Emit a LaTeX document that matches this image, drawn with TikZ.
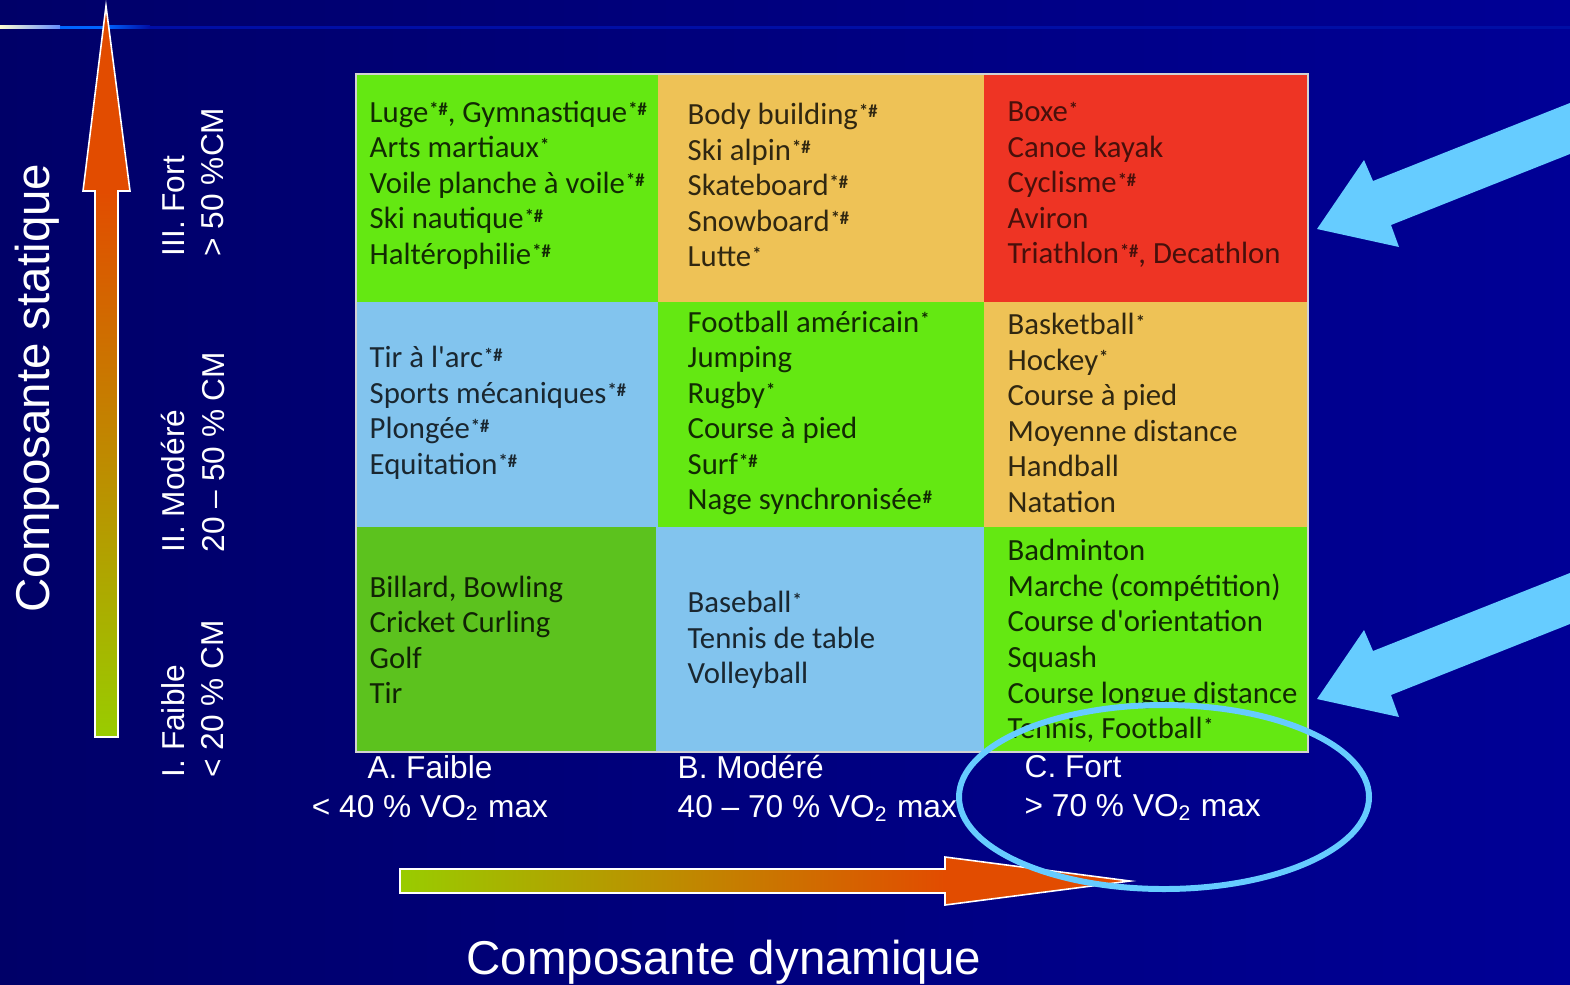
\documentclass[tikz,border=0pt]{standalone}
\usepackage{fontspec}
\setmainfont{Carlito}
\newfontfamily\arialfont{Liberation Sans}
\usepackage{xcolor}
\usepackage{graphicx}
\usetikzlibrary{positioning,calc}

\definecolor{bgleft}{RGB}{0,0,104}
\definecolor{bgright}{RGB}{0,0,150}
\definecolor{cgreen}{RGB}{100,232,18}
\definecolor{cdkgreen}{RGB}{92,194,30}
\definecolor{ctan}{RGB}{238,194,86}
\definecolor{cred}{RGB}{238,52,36}
\definecolor{cblue}{RGB}{130,196,238}
\definecolor{skyarrow}{RGB}{102,204,255}
\definecolor{arrlow}{RGB}{153,204,0}
\definecolor{arrhigh}{RGB}{226,76,0}
\definecolor{linecream}{RGB}{255,255,210}
\definecolor{linepale}{RGB}{100,140,255}
\definecolor{lineblue}{RGB}{0,102,255}
\definecolor{linedeep}{RGB}{0,14,165}

\newcommand{\mrk}[1]{\kern0.3pt\raisebox{0.45ex}{\scalebox{0.6}{\bfseries #1}}}

\begin{document}
\begin{tikzpicture}[x=0.01cm, y=-0.01cm,
  every node/.style={inner sep=0pt},
  sport/.style ={anchor=west, align=left,
                 font=\fontsize{8.75}{10.1}\selectfont},
  axlab/.style ={text=white, font=\arialfont\fontsize{9}{11.1}\selectfont},
  bigtitle/.style={text=white, font=\arialfont\fontsize{13.5}{16}\selectfont},
  gradarrow/.style={draw=white, line width=0.45pt},
  bluearrow/.style={fill=skyarrow}
]

%% ---- Background ---------------------------------------------------
\path[use as bounding box, left color=bgleft, right color=bgright]
      (0,0) rectangle (1570,984);
\clip (0,0) rectangle (1570,984);

% top rule
\shade[left color=linecream, right color=linepale] (0,25.5) rectangle (60,28.5);
\fill[lineblue] (60,25.5) rectangle (105,28.5);
\shade[left color=lineblue, right color=linedeep] (105,25.5) rectangle (150,28.5);
\fill[linedeep] (150,25.5) rectangle (1570,28.5);

%% ---- Grid cells ---------------------------------------------------
\fill[cgreen]   (356,74)  rectangle (658,302);
\fill[ctan]     (658,74)  rectangle (984,302);
\fill[cred]     (984,74)  rectangle (1308,302);
\fill[cblue]    (356,302) rectangle (658,527);
\fill[cgreen]   (658,302) rectangle (984,527);
\fill[ctan]     (984,302) rectangle (1308,527);
\fill[cdkgreen] (356,527) rectangle (656,752);
\fill[cblue]    (656,527) rectangle (984,752);
\fill[cgreen]   (984,527) rectangle (1308,752);
\draw[gray!35, line width=0.6pt] (356,74) rectangle (1308,752);

%% ---- Sports, row III ----------------------------------------------
\node[sport, text=cgreen!18!black] (A3) at (369,185)
      {Luge\mrk{*\#}, Gymnastique\mrk{*\#}\\Arts martiaux\mrk{*}\\
       Voile planche à voile\mrk{*\#}\\Ski nautique\mrk{*\#}\\
       Haltérophilie\mrk{*\#}};
\node[sport, text=ctan!20!black] (B3) at (687,185)
      {Body building\mrk{*\#}\\Ski alpin\mrk{*\#}\\Skateboard\mrk{*\#}\\
       Snowboard\mrk{*\#}\\Lutte\mrk{*}};
\node[sport, text=cred!30!black] (C3) at (1007,185)
      {Boxe\mrk{*}\\Canoe kayak\\Cyclisme\mrk{*\#}\\Aviron\\
       Triathlon\mrk{*\#}, Decathlon};

%% ---- Sports, row II -----------------------------------------------
\node[sport, text=cblue!20!black] (A2) at (369,413)
      {Tir à l\textquotesingle arc\mrk{*\#}\\Sports mécaniques\mrk{*\#}\\
       Plongée\mrk{*\#}\\Equitation\mrk{*\#}};
\node[sport, text=cgreen!18!black] (B2) at (687,413)
      {Football américain\mrk{*}\\Jumping\\Rugby\mrk{*}\\Course à pied\\
       Surf\mrk{*\#}\\Nage synchronisée\mrk{\#}};
\node[sport, text=ctan!20!black] (C2) at (1007,413)
      {Basketball\mrk{*}\\Hockey\mrk{*}\\Course à pied\\
       Moyenne distance\\Handball\\Natation};

%% ---- Sports, row I ------------------------------------------------
\node[sport, text=cdkgreen!18!black] (A1) at (369,640)
      {Billard, Bowling\\Cricket Curling\\Golf\\Tir};
\node[sport, text=cblue!20!black] (B1) at (687,640)
      {Baseball\mrk{*}\\Tennis de table\\Volleyball};
\node[sport, text=cgreen!18!black] (C1) at (1007,641)
      {Badminton\\Marche (compétition)\\Course d\textquotesingle orientation\\Squash\\
       Course longue distance\\Tennis, Football\mrk{*}};

%% ---- Static axis --------------------------------------------------
\shade[top color=arrhigh, bottom color=arrlow] (95,191) rectangle (118,737);
\fill[arrhigh] (83,191) -- (106,6) -- (130,191) -- cycle;
\draw[gradarrow]
      (95,737) -- (95,191) -- (83,191) -- (106,6) -- (130,191)
      -- (118,191) -- (118,737) -- cycle;
\node[bigtitle, rotate=90] (statique) at (37,388) {Composante statique};
\node[axlab, rotate=90, anchor=west, align=left] (rowIII) at (193,257)
      {III. Fort\\> 50 \%CM};
\node[axlab, rotate=90, anchor=west, align=left] (rowII) at (193,553)
      {II. Modéré\\20 \textendash\ 50 \% CM};
\node[axlab, rotate=90, anchor=west, align=left] (rowI) at (193,778)
      {I. Faible\\< 20 \% CM};

%% ---- Dynamic axis -------------------------------------------------
\node[axlab, align=center] (colA) at (430,788)
      {A. Faible\\< 40 \% VO\textsubscript{2} max};
\node[axlab, anchor=west, align=left] (colB) at (677,788)
      {B. Modéré\\40 \textendash\ 70 \% VO\textsubscript{2} max};
\node[axlab, anchor=west, align=left] (colC) at (1024,788)
      {C. Fort\\> 70 \% VO\textsubscript{2} max};
\shade[left color=arrlow, right color=arrhigh] (400,869) rectangle (945,893);
\fill[arrhigh] (945,857) -- (1130,881) -- (945,905) -- cycle;
\draw[gradarrow]
      (400,869) -- (945,869) -- (945,857) -- (1130,881) -- (945,905)
      -- (945,893) -- (400,893) -- cycle;
\node[bigtitle] (dynamique) at (724,962) {Composante dynamique};

%% ---- Highlights ---------------------------------------------------
\draw[skyarrow, line width=1.7pt] (1164,797) ellipse [x radius=205, y radius=92];
\fill[bluearrow] (1317,229) -- (1364,160) -- (1373,181) -- (1580,99)
      -- (1580,150) -- (1391,225) -- (1399,247) -- cycle;
\fill[bluearrow] (1317,699) -- (1364,630) -- (1373,651) -- (1580,569)
      -- (1580,620) -- (1391,695) -- (1399,717) -- cycle;

\end{tikzpicture}
\end{document}
